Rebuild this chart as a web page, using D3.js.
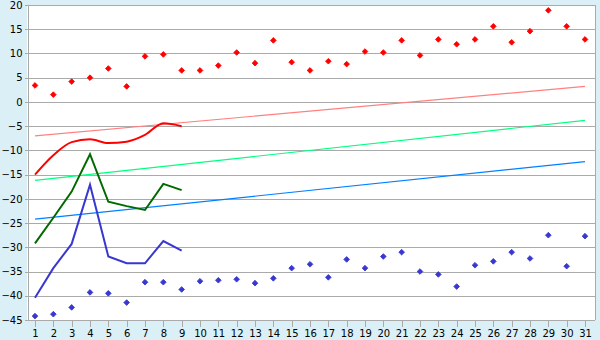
<!DOCTYPE html>
<html>
<head>
<meta charset="utf-8">
<script src="https://cdn.jsdelivr.net/npm/d3@7"></script>
<style>
    body { margin: 0; background: #daf0f6; }
    svg { display: block; }
    .tick text { font-family: "DejaVu Sans", Verdana, sans-serif; font-size: 10px; fill: #000; }
</style>
</head>
<body>
<div id="vis"></div>
<script>
// days of the month
var days = d3.range(1, 32);

// record highs / lows (diamonds)
var recordMax = [3.4, 1.5, 4.2, 5.0, 6.9, 3.2, 9.4, 9.8, 6.5, 6.5, 7.5, 10.2, 8.0, 12.7, 8.2, 6.5,
    8.4, 7.8, 10.4, 10.2, 12.7, 9.6, 12.9, 11.9, 12.9, 15.6, 12.3, 14.6, 18.9, 15.6, 12.9];
var recordMin = [-44.2, -43.8, -42.4, -39.3, -39.5, -41.4, -37.2, -37.2, -38.7, -37.0, -36.8, -36.6,
    -37.4, -36.4, -34.3, -33.5, -36.2, -32.5, -34.3, -31.9, -31.0, -35.0, -35.6, -38.1, -33.7,
    -32.9, -31.0, -32.3, -27.5, -33.9, -27.7];

// current month, days 1-9
var curMax = [-15.0, -11.0, -8.3, -7.7, -8.5, -8.2, -6.8, -4.4, -5.0];
var curMean = [-29.2, -23.9, -18.5, -10.8, -20.6, -21.5, -22.3, -16.9, -18.2];
var curMin = [-40.4, -34.3, -29.3, -17.1, -31.9, -33.3, -33.3, -28.7, -30.7];

// normals (day 1 and day 31)
var normDays = [1, 31];
var normMax = [-7.0, 3.2];
var normMean = [-16.2, -3.8];
var normMin = [-24.2, -12.3];

var yTicks = d3.range(-45, 21, 5);

var W = 600, H = 340;
var plotLeft = 27, plotRight = 595, plotTop = 5, plotBottom = 320;

var svg = d3.select("#vis").append("svg")
    .attr("width", W)
    .attr("height", H);

svg.append("rect")
    .attr("width", W).attr("height", H)
    .attr("fill", "#daf0f6");

svg.append("rect")
    .attr("x", plotLeft).attr("y", plotTop)
    .attr("width", plotRight - plotLeft).attr("height", plotBottom - plotTop)
    .attr("fill", "#ffffff");

var x = d3.scalePoint().domain(days).range([35, 585]);
var y = d3.scaleLinear().domain([-45, 20]).range([plotBottom, plotTop]);

// gridlines
svg.append("g").selectAll("line")
    .data(yTicks)
    .enter().append("line")
    .attr("x1", plotLeft - 2).attr("x2", plotRight)
    .attr("y1", function (d) { return Math.round(y(d)) + 0.5; })
    .attr("y2", function (d) { return Math.round(y(d)) + 0.5; })
    .attr("stroke", "#aaaaaa")
    .attr("shape-rendering", "crispEdges");

// right border
svg.append("line")
    .attr("x1", plotRight + 0.5).attr("x2", plotRight + 0.5)
    .attr("y1", plotTop).attr("y2", plotBottom)
    .attr("stroke", "#aaaaaa")
    .attr("shape-rendering", "crispEdges");

// y axis
var yAxis = svg.append("g")
    .attr("transform", "translate(" + (plotLeft + 0.5) + ",0)")
    .call(d3.axisLeft(y).tickValues(yTicks).tickSize(2).tickPadding(3));
yAxis.selectAll("line, path").attr("stroke", "#aaaaaa").attr("shape-rendering", "crispEdges");

// x axis
var xAxis = svg.append("g")
    .attr("transform", "translate(0," + (plotBottom + 0.5) + ")")
    .call(d3.axisBottom(x).tickSize(6).tickPadding(3).tickSizeOuter(0));
xAxis.select(".domain").attr("d", "M" + plotLeft + ",0H" + plotRight);
xAxis.selectAll("line, path").attr("stroke", "#aaaaaa").attr("shape-rendering", "crispEdges");

// normals
var normLine = d3.line()
    .x(function (d, i) { return x(normDays[i]); })
    .y(function (d) { return y(d); });

[[normMax, "#ff8080"], [normMean, "#00ff80"], [normMin, "#0080ff"]].forEach(function (s) {
    svg.append("path")
        .attr("d", normLine(s[0]))
        .attr("fill", "none")
        .attr("stroke", s[1])
        .attr("stroke-width", 1.2);
});

// current month
var curLine = d3.line()
    .x(function (d, i) { return x(days[i]); })
    .y(function (d) { return y(d); });

svg.append("path")
    .attr("d", curLine.curve(d3.curveMonotoneX)(curMax))
    .attr("fill", "none").attr("stroke", "#ff0000").attr("stroke-width", 2);

curLine.curve(d3.curveLinear);

svg.append("path")
    .attr("d", curLine(curMean))
    .attr("fill", "none").attr("stroke", "#006a00").attr("stroke-width", 2);

svg.append("path")
    .attr("d", curLine(curMin))
    .attr("fill", "none").attr("stroke", "#3838d0").attr("stroke-width", 2);

// record diamonds
var diamond = d3.symbol().type(d3.symbolSquare).size(16);

svg.append("g").selectAll("path")
    .data(recordMax)
    .enter().append("path")
    .attr("d", diamond)
    .attr("transform", function (d, i) { return "translate(" + x(days[i]) + "," + y(d) + ") rotate(45)"; })
    .attr("fill", "#ff0000")
    .attr("stroke", "#ff0000")
    .attr("stroke-width", 0.8);

svg.append("g").selectAll("path")
    .data(recordMin)
    .enter().append("path")
    .attr("d", diamond)
    .attr("transform", function (d, i) { return "translate(" + x(days[i]) + "," + y(d) + ") rotate(45)"; })
    .attr("fill", "#3838d0")
    .attr("stroke", "#3838d0")
    .attr("stroke-width", 0.8);
</script>
</body>
</html>
